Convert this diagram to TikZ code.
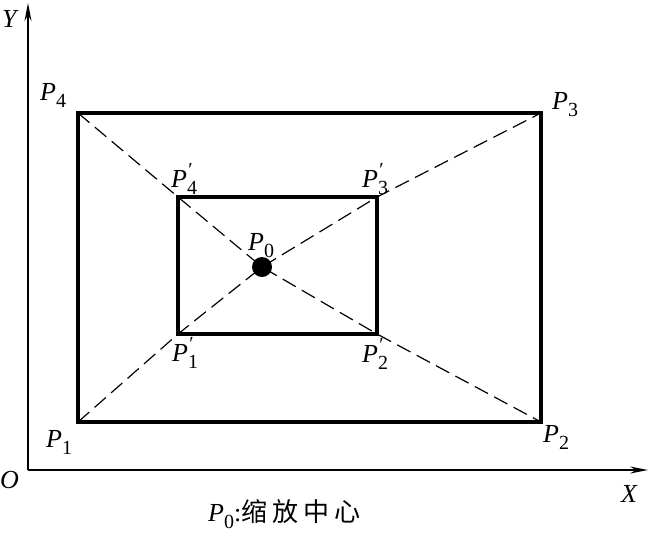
\documentclass[tikz,border=0pt]{standalone}
\usepackage{fontspec}
\setmainfont{Liberation Serif}
\newfontfamily\cjk{Noto Sans CJK SC}
\usetikzlibrary{arrows.meta}
\newcommand\subsz{\fontsize{20}{20}\selectfont}
\newcommand\PP[1]{\textit{P}\raisebox{-0.3em}{\subsz #1}}
\newcommand\PQ[1]{\textit{P}\rlap{\raisebox{0.40em}{\subsz\textit{\char"2032}}}\raisebox{-0.3em}{\subsz #1}}
\tikzset{
  lbl/.style={inner sep=0pt, anchor=base west, font=\fontsize{26}{28}\selectfont},
  axis/.style={line width=1.4pt, -{Stealth[length=18pt,width=7pt]}},
  frame/.style={line width=3.4pt, line join=miter},
  diag/.style={line width=1.2pt, dash pattern=on 15pt off 7pt},
}
\begin{document}
\begin{tikzpicture}[x=1pt,y=-1pt]
\useasboundingbox (0,0) rectangle (652,533);
% axes
\coordinate (O) at (28,470);
\coordinate (Yend) at (28,3);
\coordinate (Xend) at (648,470);
\draw[axis] (O) -- (Yend);
\draw[axis] (O) -- (Xend);
% corners
\coordinate (P1) at (78,422);
\coordinate (P2) at (541,422);
\coordinate (P3) at (541,113);
\coordinate (P4) at (78,113);
\coordinate (Q1) at (178,334);
\coordinate (Q2) at (377,334);
\coordinate (Q3) at (377,197);
\coordinate (Q4) at (178,197);
\coordinate (C) at (262,267);
% dashed diagonals
\draw[diag] (P1) -- (Q1) -- (C) -- (Q3) -- (P3);
\draw[diag] (P4) -- (Q4) -- (C) -- (Q2) -- (P2);
% rectangles
\draw[frame] (P1) -- (P2) -- (P3) -- (P4) -- cycle;
\draw[frame] (Q1) -- (Q2) -- (Q3) -- (Q4) -- cycle;
% centre dot
\fill (C) circle (10pt);
% labels
\node[lbl] (ly) at (2,27) {\textit{Y}};
\node[lbl] (lo) at (0,488) {\textit{O}};
\node[lbl] (lx) at (621,502) {\textit{X}};
\node[lbl] (l4) at (40,100) {\PP{4}};
\node[lbl] (l3) at (552,109) {\PP{3}};
\node[lbl] (l1) at (46,447) {\PP{1}};
\node[lbl] (l2) at (543,442) {\PP{2}};
\node[lbl] (m4) at (171,187) {\PQ{4}};
\node[lbl] (m3) at (362,187) {\PQ{3}};
\node[lbl] (m1) at (172,361) {\PQ{1}};
\node[lbl] (m2) at (362,362) {\PQ{2}};
\node[lbl] (l0) at (248,250) {\PP{0}};
\node[lbl] (cap) at (208,521) {\PP{0}:{\cjk\fontsize{26}{28}\selectfont 缩\hspace{5pt}放\hspace{5pt}中\hspace{5pt}心}};
\end{tikzpicture}
\end{document}
